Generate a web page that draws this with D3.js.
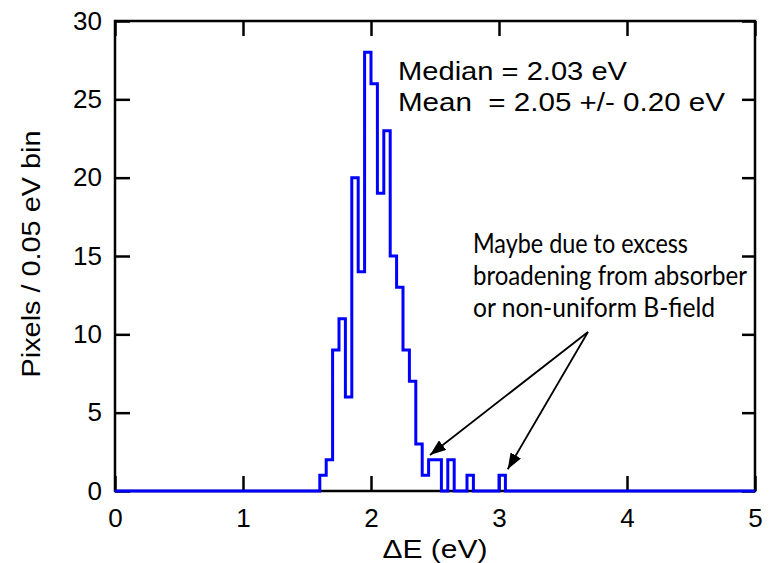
<!DOCTYPE html>
<html>
<head>
<meta charset="utf-8">
<script src="https://cdn.jsdelivr.net/npm/d3@7"></script>
<style>
  body { margin: 0; background: #fff; }
  text { font-family: "Liberation Sans", Arial, sans-serif; fill: #000; }
</style>
</head>
<body>
<script>
// histogram bins (left edge, eV) and counts per 0.05 eV bin
var binLeft = [1.60, 1.65, 1.70, 1.75, 1.80, 1.85, 1.90, 1.95, 2.00, 2.05,
               2.10, 2.15, 2.20, 2.25, 2.30, 2.35, 2.40, 2.45, 2.50, 2.55,
               2.60, 2.65, 2.70, 2.75, 2.80, 2.85, 2.90, 2.95, 3.00, 3.05];
var counts  = [1, 2, 9, 11, 6, 20, 14, 28, 26, 19,
               23, 15, 13, 9, 7, 3, 1, 2, 2, 0,
               2, 0, 0, 1, 0, 0, 0, 0, 1, 0];

var xTicks = [0, 1, 2, 3, 4, 5];
var yTicks = [0, 5, 10, 15, 20, 25, 30];

var statLines = ["Median = 2.03 eV", "Mean  = 2.05 +/- 0.20 eV"];
var noteLines = ["Maybe due to excess", "broadening from absorber", "or non-uniform B-field"];
// arrow start and tips, in data units
var arrowFrom = [3.695, 10.15];
var arrowTips = [[2.461, 2.30], [3.068, 1.385]];

var margin = { top: 21, right: 16, bottom: 72, left: 115 };
var container_width = 771;
var container_height = 563;
var width = container_width - (margin.left + margin.right);
var height = container_height - (margin.top + margin.bottom);

var svg = d3.select("body").append("svg")
    .attr("width", container_width)
    .attr("height", container_height)
  .append("g")
    .attr("transform", "translate(" + margin.left + "," + margin.top + ")");

var x = d3.scaleLinear().domain([0, 5]).range([0, width]);
var y = d3.scaleLinear().domain([0, 30]).range([height, 0]);

svg.append("defs").append("marker")
    .attr("id", "head")
    .attr("viewBox", "0 0 16 12")
    .attr("refX", 16).attr("refY", 6)
    .attr("markerWidth", 16).attr("markerHeight", 12)
    .attr("markerUnits", "userSpaceOnUse")
    .attr("orient", "auto")
  .append("path")
    .attr("d", "M0,0 L16,6 L0,12 Z")
    .attr("fill", "#000");

// axes with inward ticks

function styleAxis(g) {
  g.select(".domain").remove();
  g.selectAll(".tick line").attr("stroke", "#000").attr("stroke-width", 2.5);
  g.selectAll(".tick text").style("font-size", "26px").attr("fill", "#000");
}

svg.append("g")
  .attr("transform", "translate(0," + height + ")")
  .call(d3.axisBottom(x).tickValues(xTicks).tickFormat(d3.format("d"))
        .tickSizeInner(-15).tickSizeOuter(0).tickPadding(18))
  .call(styleAxis);

svg.append("g")
  .call(d3.axisTop(x).tickValues(xTicks).tickFormat("")
        .tickSizeInner(-15).tickSizeOuter(0))
  .call(styleAxis);

svg.append("g")
  .call(d3.axisLeft(y).tickValues(yTicks).tickFormat(d3.format("d"))
        .tickSizeInner(-15).tickSizeOuter(0).tickPadding(13))
  .call(styleAxis);

svg.append("g")
  .attr("transform", "translate(" + width + ",0)")
  .call(d3.axisRight(y).tickValues(yTicks).tickFormat("")
        .tickSizeInner(-13).tickSizeOuter(0))
  .call(styleAxis);

svg.append("rect")
  .attr("width", width)
  .attr("height", height)
  .attr("fill", "none")
  .attr("stroke", "#000")
  .attr("stroke-width", 2.5);

// histogram as a step line, zero outside the filled bins

var pts = [[0, 0]].concat(binLeft.map(function(b, i) { return [b, counts[i]]; }));
pts.push([5, 0]);

var step = d3.line()
  .x(function(d) { return x(d[0]); })
  .y(function(d) { return y(d[1]); })
  .curve(d3.curveStepAfter);

svg.append("path")
  .attr("d", step(pts))
  .attr("fill", "none")
  .attr("stroke", "#0000ff")
  .attr("stroke-width", 3)
  .attr("stroke-linejoin", "miter");

// axis titles

svg.append("text")
  .text("\u0394E (eV)")
  .attr("x", width / 2)
  .attr("y", height + 67)
  .attr("text-anchor", "middle")
  .attr("textLength", 105)
  .attr("lengthAdjust", "spacingAndGlyphs")
  .style("font-size", "26px");

svg.append("text")
  .text("Pixels / 0.05 eV bin")
  .attr("text-anchor", "middle")
  .attr("textLength", 247)
  .attr("lengthAdjust", "spacingAndGlyphs")
  .attr("transform", "translate(" + (40 - margin.left) + "," + (254 - margin.top) + ") rotate(-90)")
  .style("font-size", "26px");

// stats

var statWidths = [229, 327];
svg.selectAll(".stat")
  .data(statLines)
  .enter()
  .append("text")
  .attr("class", "stat")
  .attr("x", 398 - margin.left)
  .attr("y", function(d, i) { return 80 - margin.top + i * 31; })
  .attr("textLength", function(d, i) { return statWidths[i]; })
  .attr("lengthAdjust", "spacingAndGlyphs")
  .style("white-space", "pre")
  .style("font-size", "25px")
  .text(function(d) { return d; });

// note and arrows

var noteWidths = [215, 274, 242];
svg.selectAll(".note")
  .data(noteLines)
  .enter()
  .append("text")
  .attr("class", "note")
  .attr("x", 473 - margin.left)
  .attr("y", function(d, i) { return 253 - margin.top + i * 32; })
  .attr("textLength", function(d, i) { return noteWidths[i]; })
  .attr("lengthAdjust", "spacingAndGlyphs")
  .style("font-family", "Lato, 'Open Sans', sans-serif")
  .style("font-size", "26px")
  .text(function(d) { return d; });

svg.selectAll(".arrow")
  .data(arrowTips)
  .enter()
  .append("line")
  .attr("x1", x(arrowFrom[0]))
  .attr("y1", y(arrowFrom[1]))
  .attr("x2", function(d) { return x(d[0]); })
  .attr("y2", function(d) { return y(d[1]); })
  .attr("stroke", "#000")
  .attr("stroke-width", 1.8)
  .attr("marker-end", "url(#head)");
</script>
</body>
</html>
